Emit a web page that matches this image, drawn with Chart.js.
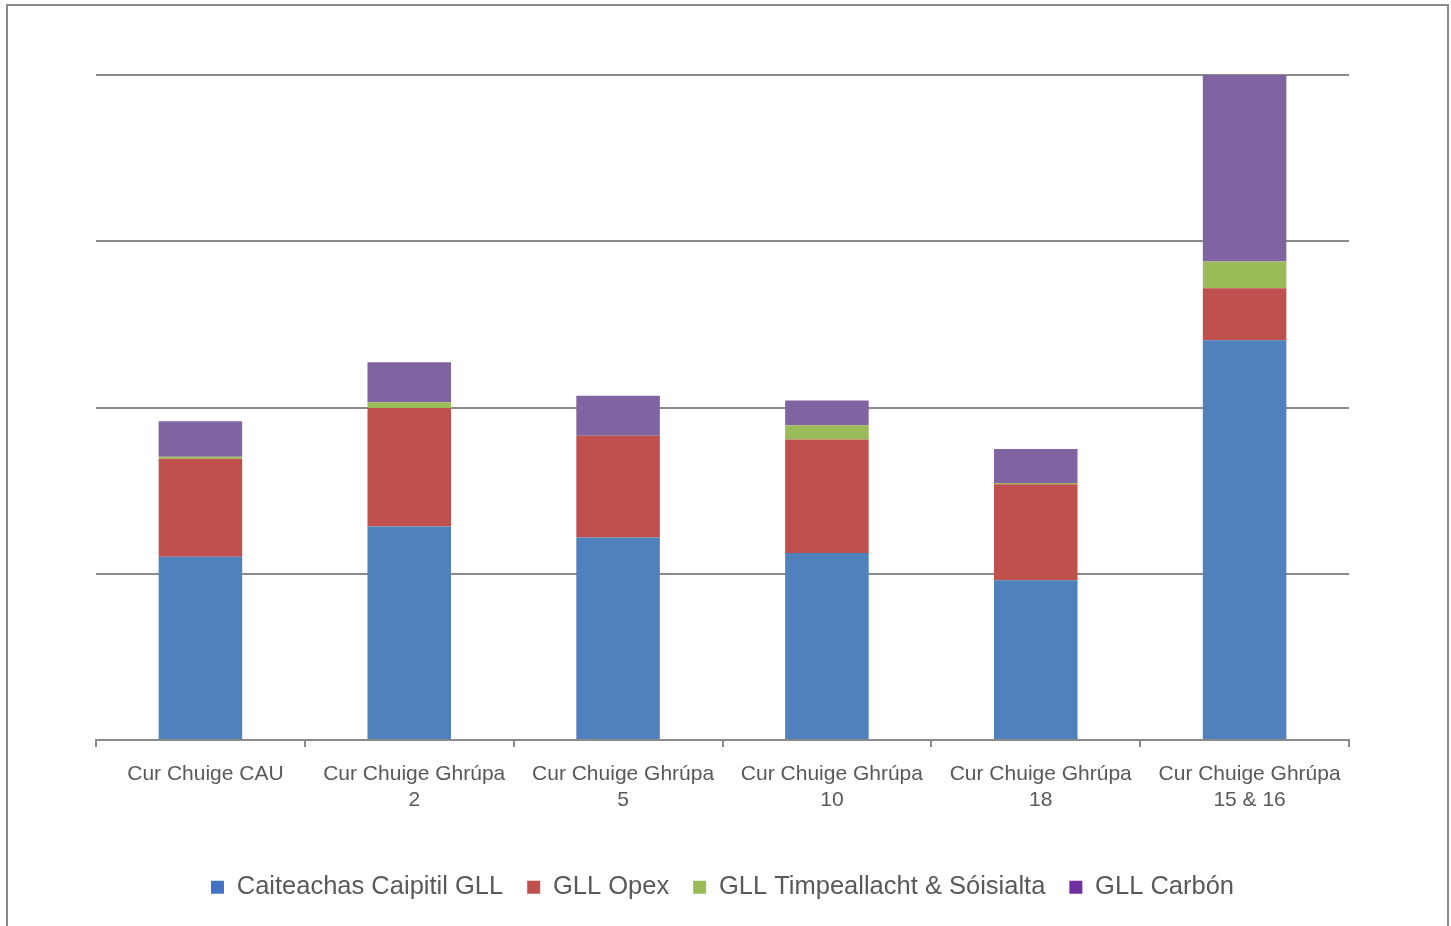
<!DOCTYPE html>
<html>
<head>
<meta charset="utf-8">
<script src="https://cdn.jsdelivr.net/npm/chart.js@4/dist/chart.umd.min.js"></script>
<style>
  html, body { margin: 0; padding: 0; background: #fff; }
  #wrap { position: absolute; left: 0; top: 0; width: 1451px; height: 926px; }
</style>
</head>
<body>
<div id="wrap"><canvas id="c" width="1451" height="926"></canvas></div>
<script>
const categories = [
  ["Cur Chuige CAU"],
  ["Cur Chuige Ghrúpa", "2"],
  ["Cur Chuige Ghrúpa", "5"],
  ["Cur Chuige Ghrúpa", "10"],
  ["Cur Chuige Ghrúpa", "18"],
  ["Cur Chuige Ghrúpa", "15 & 16"]
];
const seriesNames = ["Caiteachas Caipitil GLL", "GLL Opex", "GLL Timpeallacht & Sóisialta", "GLL Carbón"];
const capex   = [1.102, 1.285, 1.219, 1.125, 0.962, 2.404];
const opex    = [0.590, 0.713, 0.611, 0.683, 0.576, 0.313];
const envSoc  = [0.012, 0.034, 0.000, 0.086, 0.008, 0.161];
const carbon  = [0.213, 0.241, 0.241, 0.149, 0.205, 1.122];
const barColors    = ["#4F81BD", "#C0504D", "#9BBB59", "#8064A2"];
const legendColors = ["#4472C4", "#C0504D", "#9BBB59", "#7030A0"];
const yTicks = [0, 1, 2, 3, 4];

const seriesValues = [capex, opex, envSoc, carbon];

const frame = {
  id: 'frame',
  beforeDraw(chart) {
    const ctx = chart.ctx;
    ctx.save();
    ctx.fillStyle = '#fff';
    ctx.fillRect(0, 0, chart.width, chart.height);
    ctx.strokeStyle = '#8a8a8a';
    ctx.lineWidth = 2;
    ctx.strokeRect(7, 5, 1441, 1000);
    ctx.restore();
  }
};

new Chart(document.getElementById('c'), {
  type: 'bar',
  data: {
    labels: categories,
    datasets: seriesNames.map((n, i) => ({
      label: n,
      data: seriesValues[i],
      backgroundColor: barColors[i],
      borderWidth: 0,
      categoryPercentage: 1.0,
      barPercentage: 0.4
    }))
  },
  options: {
    responsive: false,
    animation: false,
    devicePixelRatio: 1,
    layout: { padding: { left: 96, right: 102, top: 75, bottom: 16 } },
    plugins: {
      tooltip: { enabled: false },
      legend: {
        position: 'bottom',
        labels: {
          color: '#595959',
          font: { family: '"Liberation Sans", Arial, sans-serif', size: 25.5 },
          boxWidth: 13,
          boxHeight: 13,
          padding: 24,
          generateLabels(chart) {
            return seriesNames.map((n, i) => ({
              text: n,
              fillStyle: legendColors[i],
              strokeStyle: legendColors[i],
              lineWidth: 0,
              fontColor: '#595959',
              datasetIndex: i,
              hidden: false
            }));
          }
        }
      }
    },
    scales: {
      x: {
        stacked: true,
        offset: true,
        afterFit(scale) { scale.height += 23; },
        grid: {
          offset: true,
          drawOnChartArea: false,
          drawTicks: true,
          tickLength: 7,
          color: '#8a8a8a',
          lineWidth: 2
        },
        border: { display: true, color: '#8a8a8a', width: 2 },
        ticks: {
          color: '#595959',
          font: { family: '"Liberation Sans", Arial, sans-serif', size: 21 },
          padding: 15,
          labelOffset: 5,
          maxRotation: 0,
          autoSkip: false
        }
      },
      y: {
        stacked: true,
        min: yTicks[0],
        max: yTicks[yTicks.length - 1],
        afterBuildTicks(scale) { scale.ticks = yTicks.map(v => ({ value: v })); },
        ticks: { display: false },
        grid: { color: '#8a8a8a', lineWidth: 2, drawTicks: false },
        border: { display: false }
      }
    }
  },
  plugins: [frame]
});
</script>
</body>
</html>
